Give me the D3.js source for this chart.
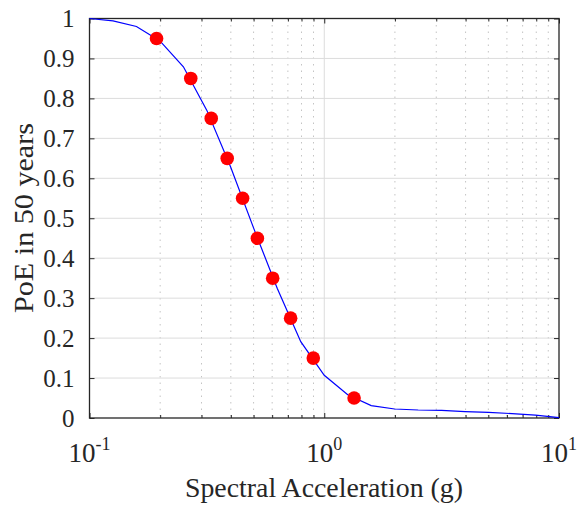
<!DOCTYPE html>
<html>
<head>
<meta charset="utf-8">
<script src="https://cdn.jsdelivr.net/npm/d3@7"></script>
<style>
  html, body { margin: 0; padding: 0; background: #fff; }
</style>
</head>
<body>
<svg id="chart" width="577" height="508"></svg>
<script>
// Hazard curve: spectral acceleration levels (g) and PoE in 50 years
const curveSa = [0.1, 0.1259, 0.1585, 0.1995, 0.2512, 0.3162, 0.3981, 0.5012, 0.631, 0.7943,
                 1.0, 1.259, 1.585, 1.995, 2.512, 3.162, 3.981, 5.012, 6.31, 7.943, 10];
const curvePoE = [1.0, 0.994, 0.98, 0.944, 0.879, 0.77, 0.63, 0.474, 0.324, 0.191,
                  0.107, 0.058, 0.031, 0.0225, 0.020, 0.019, 0.016, 0.014, 0.011, 0.007, 0.001];
// Highlighted points
const pointPoE = [0.95, 0.85, 0.75, 0.65, 0.55, 0.45, 0.35, 0.25, 0.15, 0.05];
const pointSa = [0.193, 0.270, 0.330, 0.386, 0.449, 0.519, 0.603, 0.719, 0.898, 1.34];
// Ticks
const xMajorTicks = [0.1, 1, 10];
const xTickExponents = ["-1", "0", "1"];
const xMinorTicks = [0.2,0.3,0.4,0.5,0.6,0.7,0.8,0.9,2,3,4,5,6,7,8,9];
const yTicks = [0,0.1,0.2,0.3,0.4,0.5,0.6,0.7,0.8,0.9,1];
const yTickLabels = ["0","0.1","0.2","0.3","0.4","0.5","0.6","0.7","0.8","0.9","1"];
const xLabel = "Spectral Acceleration (g)";
const yLabel = "PoE in 50 years";

const FONT = "Liberation Serif";
const L = 89.5, R = 559, T = 18.5, B = 418;
const svg = d3.select("#chart");
const x = d3.scaleLog().domain([0.1, 10]).range([L, R]);
const y = d3.scaleLinear().domain([0, 1]).range([B, T]);
const axisColor = "#262626";

function serif(sel, size) {
  return sel.attr("font-family", FONT).style("font-family", `'${FONT}'`)
    .attr("font-size", size).style("font-size", size + "px").attr("fill", axisColor);
}

// Grid: minor x (dotted)
svg.append("g").selectAll("line").data(xMinorTicks).join("line")
  .attr("x1", d => x(d)).attr("x2", d => x(d)).attr("y1", T).attr("y2", B)
  .attr("stroke", "#c4c4c4").attr("stroke-width", 1).attr("stroke-dasharray", "1.5,5");
// Grid: major x
svg.append("g").selectAll("line").data(xMajorTicks.slice(1, -1)).join("line")
  .attr("x1", d => x(d)).attr("x2", d => x(d)).attr("y1", T).attr("y2", B)
  .attr("stroke", "#dcdcdc").attr("stroke-width", 1);
// Grid: major y
svg.append("g").selectAll("line").data(yTicks.slice(1, -1)).join("line")
  .attr("x1", L).attr("x2", R).attr("y1", d => y(d)).attr("y2", d => y(d))
  .attr("stroke", "#dcdcdc").attr("stroke-width", 1);

// Axes (ticks inward)
function styleAxis(g) {
  g.select(".domain").remove();
  g.attr("font-family", FONT);
  g.selectAll(".tick line").attr("stroke", axisColor).attr("stroke-width", 1);
}
const yAxisL = svg.append("g").attr("transform", `translate(${L},0)`)
  .call(d3.axisLeft(y).tickValues(yTicks).tickSize(-5).tickPadding(15)
    .tickFormat((d, i) => yTickLabels[i]));
styleAxis(yAxisL);
yAxisL.attr("font-size", 25);
serif(yAxisL.selectAll(".tick text"), 25);
const yAxisR = svg.append("g").attr("transform", `translate(${R},0)`)
  .call(d3.axisRight(y).tickValues(yTicks).tickSize(-5).tickFormat(""));
styleAxis(yAxisR);

const xAxisB = svg.append("g").attr("transform", `translate(0,${B})`)
  .call(d3.axisBottom(x).tickValues(xMajorTicks).tickSize(-5).tickFormat(""));
styleAxis(xAxisB);
const xAxisT = svg.append("g").attr("transform", `translate(0,${T})`)
  .call(d3.axisTop(x).tickValues(xMajorTicks).tickSize(-5).tickFormat(""));
styleAxis(xAxisT);
const xMinB = svg.append("g").attr("transform", `translate(0,${B})`)
  .call(d3.axisBottom(x).tickValues(xMinorTicks).tickSize(-3).tickFormat(""));
styleAxis(xMinB);
const xMinT = svg.append("g").attr("transform", `translate(0,${T})`)
  .call(d3.axisTop(x).tickValues(xMinorTicks).tickSize(-3).tickFormat(""));
styleAxis(xMinT);

// x tick labels with superscripts
const xl = serif(svg.append("g").selectAll("text").data(xMajorTicks).join("text"), 27)
  .attr("x", d => x(d)).attr("y", 462).attr("text-anchor", "middle");
xl.append("tspan").text("10");
serif(xl.append("tspan"), 18).attr("dy", -12).text((d, i) => xTickExponents[i]);

// Box
svg.append("rect").attr("x", L).attr("y", T).attr("width", R - L).attr("height", B - T)
  .attr("fill", "none").attr("stroke", axisColor).attr("stroke-width", 1.3);

// Curve
const line = d3.line().x((d, i) => x(curveSa[i])).y(d => y(d));
svg.append("path").datum(curvePoE).attr("d", line)
  .attr("fill", "none").attr("stroke", "#0000ff").attr("stroke-width", 1.2);

// Points
svg.append("g").selectAll("circle").data(pointPoE).join("circle")
  .attr("cx", (d, i) => x(pointSa[i])).attr("cy", d => y(d)).attr("r", 6.8)
  .attr("fill", "#ff0000");

// Axis titles
serif(svg.append("text"), 27).attr("x", 324).attr("y", 497).attr("text-anchor", "middle")
  .attr("textLength", 278).attr("lengthAdjust", "spacingAndGlyphs").text(xLabel);
serif(svg.append("text"), 27).attr("transform", `translate(33,218) rotate(-90)`)
  .attr("text-anchor", "middle")
  .attr("textLength", 190).attr("lengthAdjust", "spacingAndGlyphs").text(yLabel);
</script>
</body>
</html>
